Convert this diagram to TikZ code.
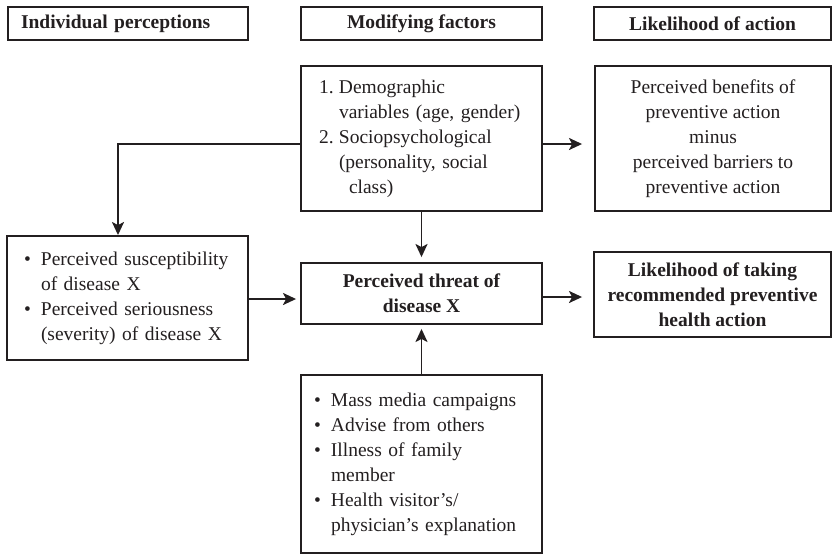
\documentclass[tikz,border=0pt]{standalone}
\usepackage{fontspec}
\setmainfont{Liberation Serif}
\usetikzlibrary{arrows.meta,calc}
\definecolor{ink}{HTML}{231F20}
\newcommand{\bitem}[1]{\makebox[17pt][l]{\textbullet}#1}
\newcommand{\bcont}[1]{\hspace*{17pt}#1}
\newcommand{\txtsize}{\fontsize{19.5}{25}\selectfont}
\tikzset{
  box/.style={draw=ink, line width=1.9pt, rectangle, inner sep=0pt,
    font=\txtsize, text=ink},
  headbox/.style={box, font=\txtsize\bfseries, minimum height=33pt},
  arr/.style={draw=ink, line width=1.9pt,
    -{Stealth[length=13pt,width=12pt,inset=3pt]}},
}
\begin{document}
\begin{tikzpicture}[x=1pt,y=-1pt]
\useasboundingbox (0,0) rectangle (833,555);

% column headings
\node[headbox, minimum width=240pt, text width=214pt, align=left]
  (h1) at (128,23.5) {Individual perceptions};
\node[headbox, minimum width=241pt, align=center]
  (h2) at (421.5,23.5) {Modifying factors};
\node[headbox, minimum width=237pt, align=center]
  (h3) at (712.5,23.5) {Likelihood of action};

% modifying factors
\node[box, minimum width=241pt, minimum height=145pt, text width=205pt, align=left]
  (mod) at (421.5,138.5)
  {\makebox[20pt][l]{1.}Demographic\\
   \hspace*{20pt}variables (age, gender)\\
   \makebox[20pt][l]{2.}Sociopsychological\\
   \hspace*{20pt}(personality, social\\
   \hspace*{30pt}class)};

% benefits minus barriers
\node[box, minimum width=236pt, minimum height=145pt, align=center]
  (ben) at (713,138.5)
  {Perceived benefits of\\preventive action\\minus\\perceived barriers to\\preventive action};

% individual perceptions
\node[box, minimum width=241pt, minimum height=124pt, text width=207pt, align=left]
  (ind) at (127.5,298)
  {\bitem{Perceived susceptibility}\\
   \bcont{of disease X}\\
   \bitem{Perceived seriousness}\\
   \bcont{(severity) of disease X}};

% perceived threat
\node[box, minimum width=241pt, minimum height=61pt, align=center, font=\txtsize\bfseries]
  (thr) at (421.5,293.5)
  {Perceived threat of\\disease X};

% likelihood of taking action
\node[box, minimum width=237pt, minimum height=85pt, align=center, font=\txtsize\bfseries]
  (lik) at (712.5,294.5)
  {Likelihood of taking\\recommended preventive\\health action};

% cues to action
\node[box, minimum width=241pt, minimum height=178pt, text width=215pt, align=left]
  (cue) at (421.5,464)
  {\bitem{Mass media campaigns}\\
   \bitem{Advise from others}\\
   \bitem{Illness of family}\\
   \bcont{member}\\
   \bitem{Health visitor’s/}\\
   \bcont{physician’s explanation}};

% connectors
\coordinate (split) at ([yshift=-5.5pt]mod.west);
\draw[arr] (split) -| ([xshift=-9.5pt]ind.north);
\draw[arr, shorten >=12pt] (split -| mod.east) -- (split -| ben.west);
\draw[arr, shorten >=5pt] (mod.south) -- (thr.north);
\draw[arr, shorten >=4pt] ([yshift=-1pt]ind.east) -- ([yshift=-1pt]ind.east -| thr.west);
\draw[arr, shorten >=11pt] ([yshift=-3.5pt]thr.east) -- ([yshift=-3.5pt]thr.east -| lik.west);
\draw[arr, shorten >=4pt] (cue.north) -- (thr.south);
\end{tikzpicture}
\end{document}
